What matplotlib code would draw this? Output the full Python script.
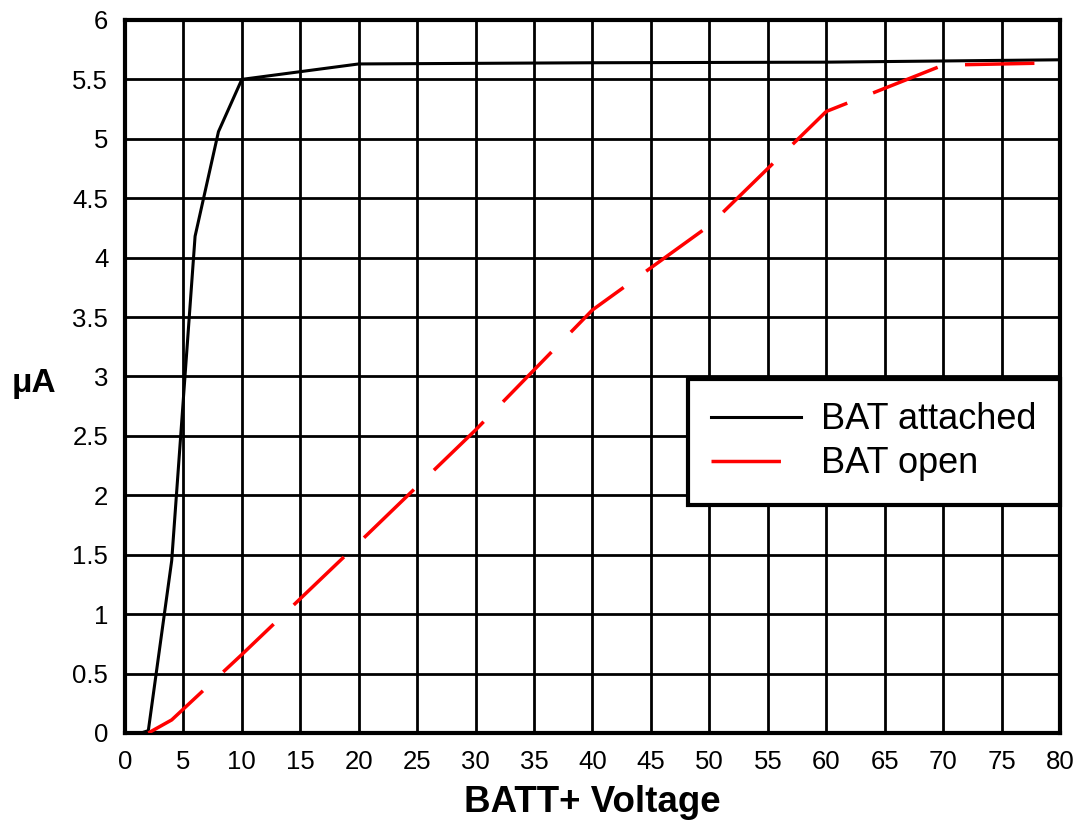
import numpy as np
import matplotlib
matplotlib.use("Agg")
from matplotlib import pyplot as plt

plt.rcParams['font.family'] = ['Liberation Sans', 'DejaVu Sans']

# Data.
attached_v = [1.4, 2.0, 4.0, 6.0, 8.0, 10.0, 20.0, 40.0, 60.0, 80.0]
attached_ua = [0.0, 0.02, 1.45, 4.18, 5.06, 5.50, 5.63, 5.64, 5.645, 5.665]

open_v = [2.0, 4.0, 10.0, 20.0, 30.0, 40.0, 50.0, 60.0, 70.0, 80.0]
open_ua = [0.0, 0.11, 0.66, 1.60, 2.55, 3.56, 4.27, 5.23, 5.62, 5.64]

x_ticks = np.arange(0, 81, 5)
y_ticks = np.arange(0, 6.01, 0.5)
y_labels = ["0", "0.5", "1", "1.5", "2", "2.5", "3", "3.5", "4", "4.5", "5", "5.5", "6"]

fig = plt.figure(figsize=(10.79, 8.22), dpi=100)
ax = fig.add_axes([0.1158, 0.1083, 0.8666, 0.8674])

ax.plot(attached_v, attached_ua, color="black", lw=2.2, label="BAT attached", zorder=3)
ax.plot(open_v, open_ua, color="red", lw=2.5, dashes=(20, 8), label="BAT open", zorder=3)

ax.set_xlim(0, 80)
ax.set_ylim(0, 6)
ax.set_xticks(x_ticks)
ax.set_yticks(y_ticks)
ax.set_yticklabels(y_labels)
ax.grid(True, color="black", lw=2.0)
ax.tick_params(length=0, labelsize=18.5, pad=12)
for sp in ax.spines.values():
    sp.set_linewidth(3)

ax.set_xlabel("BATT+ Voltage", fontsize=26.5, fontweight="bold", labelpad=8)
fig.text(0.031, 0.534, "\u03bcA", fontsize=24, fontweight="bold", ha="center", va="center")

leg = ax.legend(loc="lower right", bbox_to_anchor=(1.0, 0.32), fontsize=26,
                handlelength=2.5, fancybox=False, framealpha=1,
                edgecolor="black", borderpad=0.65, labelspacing=0.25,
                borderaxespad=0, handletextpad=0.55)
leg.get_frame().set_linewidth(3)

fig.savefig("out.png", dpi=100)
